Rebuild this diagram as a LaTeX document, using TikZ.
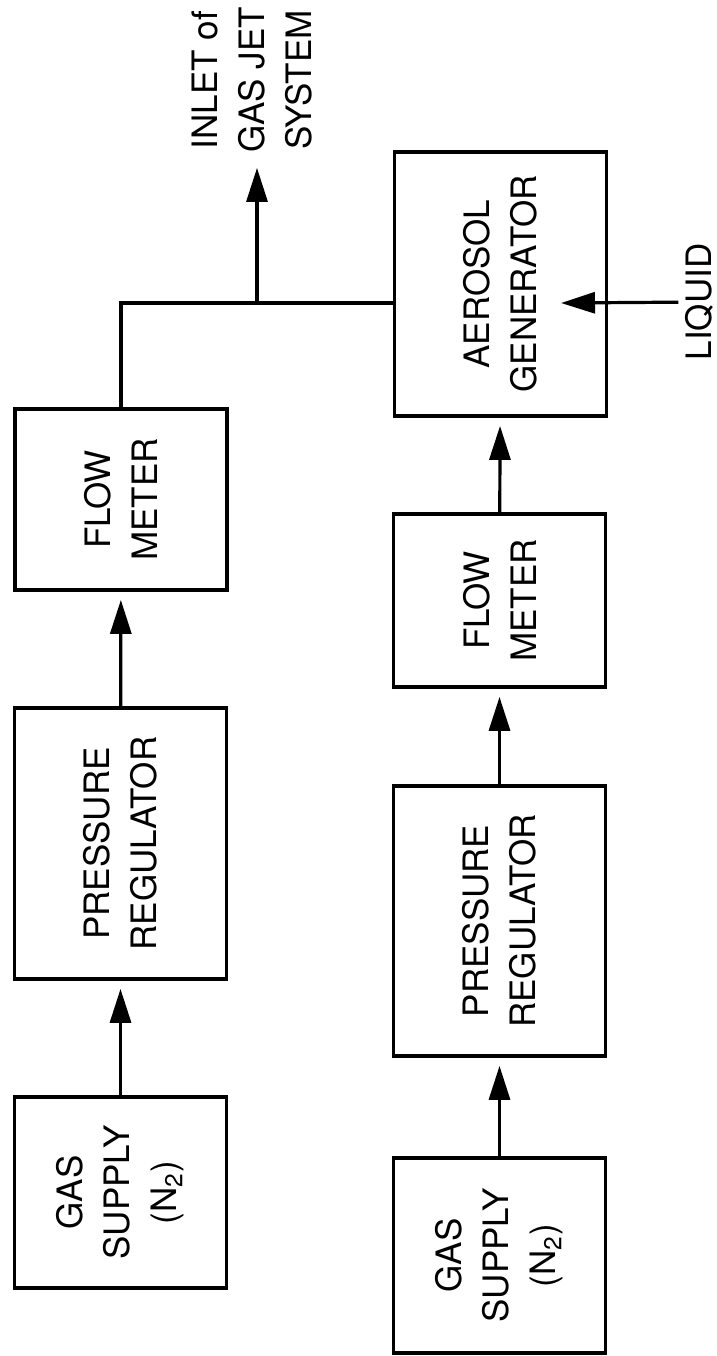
\documentclass[tikz,border=0pt]{standalone}
\usepackage{fontspec}
\setmainfont{TeX Gyre Heros}
\usepackage{tikz}
\usetikzlibrary{arrows.meta, positioning, calc}

\begin{document}
\begin{tikzpicture}[x=0.5pt, y=-0.5pt,
    unitbox/.style={draw, line width=1.9pt, rotate=90, inner sep=0pt, align=center,
      font=\fontsize{17.5}{23.5}\selectfont, minimum height=106pt},
    tag/.style={rotate=90, align=center, font=\fontsize{17.5}{23.5}\selectfont},
    pipe/.style={line width=1.6pt},
    flow/.style={pipe, -{Triangle[length=17pt, width=10.5pt]}, shorten >=4pt}]
  \useasboundingbox (0,0) rectangle (717,1356);

  % nitrogen line to the jet
  \node[unitbox, minimum width=95.5pt] (gasA) at (120.5,1192.5) {GAS\\SUPPLY\\(N\textsubscript{2})};
  \node[unitbox, minimum width=135.5pt] (regA) at (120.5,843.5) {PRESSURE\\REGULATOR};
  \node[unitbox, minimum width=90.5pt] (meterA) at (121,499.5) {FLOW\\METER};

  % nitrogen line through the aerosol generator
  \node[unitbox, minimum width=97.5pt] (gasB) at (499.5,1255.5) {GAS\\SUPPLY\\(N\textsubscript{2})};
  \node[unitbox, minimum width=135pt] (regB) at (499.5,921) {PRESSURE\\REGULATOR};
  \node[unitbox, minimum width=86.5pt] (meterB) at (499.5,600.5) {FLOW\\METER};
  \node[unitbox, minimum width=132pt] (aero) at (500.5,284) {AEROSOL\\GENERATOR};

  \node[tag] (inlet) at (252,80) {INLET of\\GAS JET\\SYSTEM};
  \node[tag] (liquid) at (699.5,302) {LIQUID};

  \coordinate (tee) at (257,303);
  \coordinate (spray) at (561,303);

  \draw[flow] (gasA) -- (regA);
  \draw[flow] (regA) -- (meterA);
  \draw[pipe] (meterA) -- (meterA |- tee) -- (tee -| aero.north);
  \draw[flow] (tee) -- (tee |- inlet.west);

  \draw[flow] (gasB) -- (regB);
  \draw[flow] (regB) -- (meterB);
  \draw[flow] (meterB) -- (aero);
  \draw[flow, shorten >=0pt] (liquid) -- (spray);
\end{tikzpicture}
\end{document}
